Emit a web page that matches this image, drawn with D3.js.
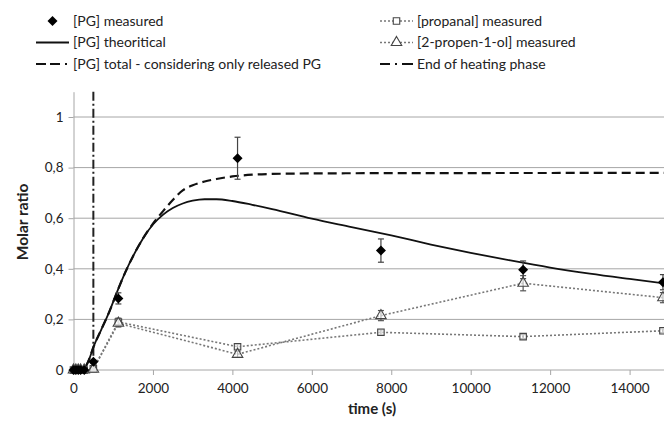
<!DOCTYPE html>
<html><head><meta charset="utf-8">
<script src="https://cdn.jsdelivr.net/npm/d3@7"></script>
<style>
html,body{margin:0;padding:0;background:#fff;}
svg{display:block;font-family:Lato,sans-serif;}
</style></head>
<body>
<script>
// ---- data ----
const sampleTimes = [0, 60, 120, 180, 270, 500, 1130, 4130, 7740, 11320, 14840];
const pgMeasured = [0, 0, 0, 0, 0, 0.033, 0.283, 0.837, 0.472, 0.396, 0.347];
const pgErr = [0, 0, 0, 0, 0, 0.006, 0.022, 0.083, 0.046, 0.035, 0.03];
const propanal = [0, 0, 0, 0, 0, 0.005, 0.19, 0.092, 0.149, 0.132, 0.155];
const propanalErr = [0, 0, 0, 0, 0, 0.004, 0.015, 0.01, 0.01, 0.008, 0.008];
const propenol = [0, 0, 0, 0, 0, 0.003, 0.185, 0.062, 0.215, 0.343, 0.286];
const propenolErr = [0, 0, 0, 0, 0, 0.004, 0.015, 0.012, 0.02, 0.03, 0.02];

const theoTimes = [0, 200, 300, 400, 500, 700, 900, 1100, 1300, 1500, 1750, 2000, 2250, 2500, 2750, 3000, 3300, 3600, 4000, 4500, 5000, 6000, 7000, 8000, 9000, 10000, 11000, 12000, 13000, 14000, 15000];
const theoValues = [0, 0, 0.012, 0.045, 0.09, 0.16, 0.23, 0.31, 0.385, 0.45, 0.52, 0.575, 0.613, 0.64, 0.658, 0.669, 0.675, 0.675, 0.668, 0.653, 0.636, 0.598, 0.565, 0.532, 0.496, 0.463, 0.433, 0.405, 0.381, 0.36, 0.34];
const totalTimes = [0, 200, 300, 400, 500, 700, 900, 1100, 1300, 1500, 1750, 2000, 2250, 2500, 2750, 3000, 3300, 3600, 4000, 4500, 5000, 6000, 8000, 15000];
const totalValues = [0, 0, 0.012, 0.045, 0.09, 0.16, 0.23, 0.31, 0.385, 0.45, 0.52, 0.578, 0.627, 0.672, 0.71, 0.73, 0.745, 0.755, 0.765, 0.772, 0.775, 0.777, 0.778, 0.779];
const heatingEnd = [500];

const xTicks = [0, 2000, 4000, 6000, 8000, 10000, 12000, 14000];
const yTicks = [0, 0.2, 0.4, 0.6, 0.8, 1];

// ---- layout ----
const W = 664, H = 428;
const svg = d3.select("body").append("svg").attr("width", W).attr("height", H);
const x = d3.scaleLinear().domain([0, 15000]).range([73.5, 669.3]);
const y = d3.scaleLinear().domain([0, 1.1]).range([370, 91.7]);
const textCol = "#222", gridCol = "#a6a6a6";

// gridlines
svg.append("g").selectAll("line").data(yTicks.filter(d => d > 0)).join("line")
  .attr("x1", x(0)).attr("x2", W).attr("y1", d => y(d)).attr("y2", d => y(d))
  .attr("stroke", gridCol).attr("stroke-width", 1);

// x axis
const xAxis = svg.append("g").attr("transform", `translate(0,${y(0)})`)
  .call(d3.axisBottom(x).tickValues(xTicks).tickSize(5).tickSizeOuter(0).tickFormat(d3.format("d")));
xAxis.select(".domain").attr("stroke", gridCol).attr("d", `M${x(0)},0H${W}`);
xAxis.selectAll(".tick line").attr("stroke", gridCol);
xAxis.selectAll(".tick text").attr("fill", textCol).attr("font-size", 13.5).attr("dy", "1.1em").attr("font-family", "Lato");

// y axis
const yAxis = svg.append("g").attr("transform", `translate(${x(0)},0)`)
  .call(d3.axisLeft(y).tickValues(yTicks).tickSize(5).tickSizeOuter(0).tickFormat(d => d === 0 ? "0" : d === 1 ? "1" : String(d).replace(".", ",")));
yAxis.select(".domain").attr("stroke", gridCol);
yAxis.selectAll(".tick line").attr("stroke", gridCol);
yAxis.selectAll(".tick text").attr("fill", textCol).attr("font-size", 13.5).attr("x", -10).attr("font-family", "Lato");

// axis titles
svg.append("text").attr("x", 372).attr("y", 414).attr("text-anchor", "middle")
  .attr("font-weight", "bold").attr("font-size", 15).attr("fill", textCol).text("time (s)");
svg.append("text").attr("transform", `translate(28,222) rotate(-90)`).attr("text-anchor", "middle")
  .attr("font-weight", "bold").attr("font-size", 15.5).attr("fill", textCol).text("Molar ratio");

// end of heating line
svg.append("g").selectAll("line").data(heatingEnd).join("line")
  .attr("x1", d => x(d)).attr("x2", d => x(d)).attr("y1", y(1.1)).attr("y2", y(0))
  .attr("stroke", "#222").attr("stroke-width", 2).attr("stroke-dasharray", "9,3,2,3");

const line = d3.line().x(d => x(d[0])).y(d => y(d[1])).curve(d3.curveMonotoneX);
const lineStraight = d3.line().x(d => x(d[0])).y(d => y(d[1]));

// total PG (dashed)
svg.append("path").datum(d3.zip(totalTimes, totalValues)).attr("d", line)
  .attr("fill", "none").attr("stroke", "#111").attr("stroke-width", 2.2).attr("stroke-dasharray", "9,5");
// theoretical PG (solid)
svg.append("path").datum(d3.zip(theoTimes, theoValues)).attr("d", line)
  .attr("fill", "none").attr("stroke", "#111").attr("stroke-width", 1.8);

// dotted series
function dotted(vals) {
  svg.append("path").datum(d3.zip(sampleTimes, vals)).attr("d", lineStraight)
    .attr("fill", "none").attr("stroke", "#777").attr("stroke-width", 1.6).attr("stroke-dasharray", "2,2");
}
dotted(propanal);
dotted(propenol);

function errorBars(vals, errs, col) {
  const g = svg.append("g").attr("stroke", col).attr("stroke-width", 1.2);
  const data = d3.zip(sampleTimes, vals, errs).filter(d => d[2] > 0);
  g.selectAll(".v").data(data).join("line").attr("x1", d => x(d[0])).attr("x2", d => x(d[0]))
    .attr("y1", d => y(d[1] + d[2])).attr("y2", d => y(d[1] - d[2]));
  g.selectAll(".t").data(data).join("line").attr("x1", d => x(d[0]) - 3).attr("x2", d => x(d[0]) + 3)
    .attr("y1", d => y(d[1] + d[2])).attr("y2", d => y(d[1] + d[2]));
  g.selectAll(".b").data(data).join("line").attr("x1", d => x(d[0]) - 3).attr("x2", d => x(d[0]) + 3)
    .attr("y1", d => y(d[1] - d[2])).attr("y2", d => y(d[1] - d[2]));
}
errorBars(propanal, propanalErr, "#555");
errorBars(propenol, propenolErr, "#555");
errorBars(pgMeasured, pgErr, "#444");

// markers
const sq = d3.symbol().type(d3.symbolSquare).size(42);
const tri = d3.symbol().type(d3.symbolTriangle).size(48);
const dia = d3.symbol().type(d3.symbolSquare).size(50);
svg.append("g").selectAll("path").data(d3.zip(sampleTimes, propanal)).join("path")
  .attr("d", sq).attr("transform", d => `translate(${x(d[0])},${y(d[1])})`)
  .attr("fill", "#fff").attr("fill-opacity", 0.6).attr("stroke", "#444").attr("stroke-width", 1.1);
svg.append("g").selectAll("path").data(d3.zip(sampleTimes, propenol)).join("path")
  .attr("d", tri).attr("transform", d => `translate(${x(d[0])},${y(d[1])})`)
  .attr("fill", "#fff").attr("fill-opacity", 0.6).attr("stroke", "#444").attr("stroke-width", 1.1);
svg.append("g").selectAll("path").data(d3.zip(sampleTimes, pgMeasured)).join("path")
  .attr("d", dia).attr("transform", d => `translate(${x(d[0])},${y(d[1])}) rotate(45)`)
  .attr("fill", "#000");

// legend
const legend = svg.append("g").attr("font-size", 14).attr("fill", textCol);
const leftItems = [
  {label: "[PG] measured", type: "diamond"},
  {label: "[PG] theoritical", type: "solid"},
  {label: "[PG] total - considering only released PG", type: "dashed"}
];
const rightItems = [
  {label: "[propanal] measured", type: "square"},
  {label: "[2-propen-1-ol] measured", type: "triangle"},
  {label: "End of heating phase", type: "dashdot"}
];
function drawItem(it, x0, x1, yy) {
  const g = legend.append("g");
  if (it.type === "diamond") {
    g.append("path").attr("d", dia).attr("transform", `translate(${(x0 + x1) / 2},${yy}) rotate(45)`).attr("fill", "#000");
  } else if (it.type === "solid") {
    g.append("line").attr("x1", x0).attr("x2", x1).attr("y1", yy).attr("y2", yy).attr("stroke", "#111").attr("stroke-width", 2);
  } else if (it.type === "dashed") {
    g.append("line").attr("x1", x0).attr("x2", x1).attr("y1", yy).attr("y2", yy).attr("stroke", "#111").attr("stroke-width", 2).attr("stroke-dasharray", "10,4,10,5,2,10");
  } else if (it.type === "dashdot") {
    g.append("line").attr("x1", x0).attr("x2", x1).attr("y1", yy).attr("y2", yy).attr("stroke", "#111").attr("stroke-width", 2).attr("stroke-dasharray", "10,5,2,5,11,5");
  } else {
    g.append("line").attr("x1", x0).attr("x2", x1).attr("y1", yy).attr("y2", yy).attr("stroke", "#777").attr("stroke-width", 1.4).attr("stroke-dasharray", "2,2");
    g.append("path").attr("d", it.type === "square" ? sq : tri).attr("transform", `translate(${(x0 + x1) / 2},${yy})`)
      .attr("fill", "#fff").attr("stroke", "#444").attr("stroke-width", 1.1);
  }
  g.append("text").attr("x", x1 + 4).attr("y", yy).attr("dy", "0.35em").text(it.label);
}
leftItems.forEach((it, i) => drawItem(it, 36, 69, 21 + i * 21.5));
rightItems.forEach((it, i) => drawItem(it, 380, 413, 21 + i * 21.5));
</script>
</body></html>
